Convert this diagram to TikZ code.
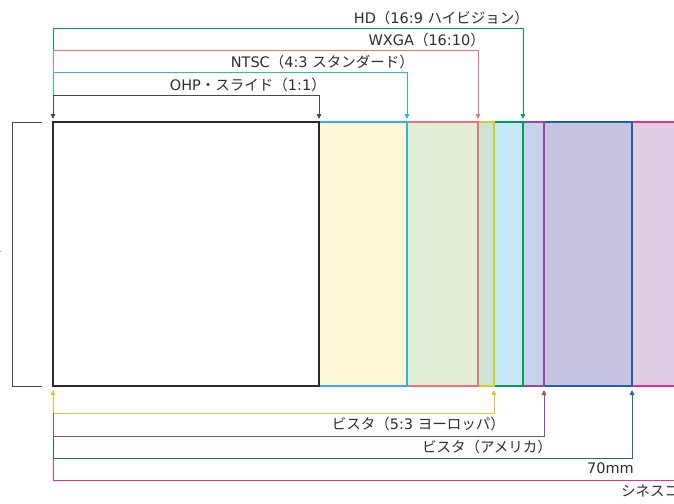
\documentclass[tikz,border=0pt]{standalone}
\usepackage{fontspec}
\setmainfont{DejaVu Sans}
\newfontfamily\jp{Noto Sans CJK JP}
\usetikzlibrary{arrows.meta}
\definecolor{frameK}{HTML}{2B2B2B}
\definecolor{ohpC}{HTML}{4A4A4A}
\definecolor{ntscC}{HTML}{2FB3E6}
\definecolor{wxgaC}{HTML}{EF727A}
\definecolor{hdC}{HTML}{00A04E}
\definecolor{eurC}{HTML}{D6CC2E}
\definecolor{ameC}{HTML}{9A45A5}
\definecolor{mmC}{HTML}{1F62B2}
\definecolor{cineC}{HTML}{EC2C8F}
\definecolor{ntscF}{HTML}{FFF9D6}
\definecolor{wxgaF}{HTML}{E2EFD6}
\definecolor{eurF}{HTML}{CCE4D4}
\definecolor{hdF}{HTML}{C7E8F7}
\definecolor{ameF}{HTML}{C5D3EB}
\definecolor{mmF}{HTML}{C6C4E0}
\definecolor{cineF}{HTML}{DFCDE3}
\tikzset{
  fmt/.style={draw=#1, line width=2pt, anchor=north west, minimum height=264pt, inner sep=0pt, outer sep=0pt},
  conn/.style={draw=#1, line width=0.9pt},
  tip/.style={-{Triangle[length=5pt,width=4.5pt]}},
  lbl/.style={font=\fontsize{14.5}{15}\selectfont, text=black!82, inner sep=0pt}
}
\begin{document}
\begin{tikzpicture}[x=1pt,y=-1pt]
\useasboundingbox (0,0) rectangle (674,503);
% format frames, largest first
\node[fmt=cineC, fill=cineF, minimum width=645pt] (cine) at (53,122) {};
\node[fmt=mmC, fill=mmF, minimum width=579pt] (mm) at (53,122) {};
\node[fmt=ameC, fill=ameF, minimum width=491pt] (ame) at (53,122) {};
\node[fmt=hdC, fill=hdF, minimum width=470pt] (hd) at (53,122) {};
\node[fmt=eurC, fill=eurF, minimum width=441pt] (eur) at (53,122) {};
\node[fmt=wxgaC, fill=wxgaF, minimum width=425pt] (wxga) at (53,122) {};
\node[fmt=ntscC, fill=ntscF, minimum width=354pt] (ntsc) at (53,122) {};
\node[fmt=frameK, fill=white, line width=2.4pt, minimum width=266pt] (ohp) at (53,122) {};
% height bracket
\coordinate (bt) at (42,122);
\coordinate (bb) at (42,386);
\draw[ohpC, line width=1pt] (bt) -- (12,122) -- (12,386) -- (bb);
\node[lbl, anchor=east] (one) at (2,247) {1};
% top rails
\coordinate (r1) at (53,28);
\coordinate (r2) at (53,50);
\coordinate (r3) at (53,72);
\coordinate (r4) at (53,95);
\draw[conn=hdC, tip] (r2) -- (r1) -| ([yshift=3pt]hd.north east);
\draw[conn=wxgaC, tip] (r3) -- (r2) -| ([yshift=3pt]wxga.north east);
\draw[conn=ntscC, tip] (r4) -- (r3) -| ([yshift=3pt]ntsc.north east);
\draw[conn=ohpC, tip] (r4) -- ([yshift=3pt]ohp.north west);
\draw[conn=ohpC, tip] (r4) -| ([yshift=3pt]ohp.north east);
\node[lbl, anchor=base east] (hdl) at (529,23.5) {HD{\jp（}16:9 {\jp ハイビジョン）}};
\node[lbl, anchor=base east] (wxgal) at (485,45.5) {WXGA{\jp（}16:10{\jp ）}};
\node[lbl, anchor=base east] (ntscl) at (414,67.5) {NTSC{\jp（}4:3 {\jp スタンダード）}};
\node[lbl, anchor=base east] (ohpl) at (326,90.5) {OHP{\jp ・スライド（}1:1{\jp ）}};
% bottom rails
\coordinate (s1) at (53,413);
\coordinate (s2) at (53,436);
\coordinate (s3) at (53,458);
\coordinate (s4) at (53,480);
\coordinate (cend) at (700,480);
\draw[conn=eurC, tip] (s1) -- ([yshift=-4pt]ohp.south west);
\draw[conn=eurC, tip] (s1) -| ([yshift=-4pt]eur.south east);
\draw[conn=ameC, tip] (s1) -- (s2) -| ([yshift=-4pt]ame.south east);
\draw[conn=mmC, tip] (s2) -- (s3) -| ([yshift=-4pt]mm.south east);
\draw[conn=cineC] (s3) -- (s4) -- (cend);
\node[lbl, anchor=base east] (eurl) at (505,429.5) {{\jp ビスタ（}5:3 {\jp ヨーロッパ）}};
\node[lbl, anchor=base east] (amel) at (552,452) {\jp ビスタ（アメリカ）};
\node[lbl, anchor=base east] (mml) at (634,473.5) {70mm};
\node[lbl, anchor=base west] (cinel) at (621,496.5) {{\jp シネスコ（}2.35:1{\jp ）}};
\end{tikzpicture}
\end{document}
